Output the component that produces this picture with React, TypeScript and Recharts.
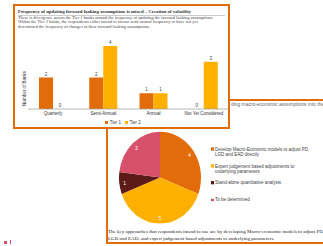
import React from 'react';
import { BarChart, Bar, XAxis, YAxis, Legend, LabelList, PieChart, Pie, Cell } from 'recharts';

const FREQ_CATEGORIES = ['Quarterly', 'Semi-Annual', 'Annual', 'Not Yet Considered'];
const TIER1_COUNTS = [2, 2, 1, 0];
const TIER2_COUNTS = [0, 4, 1, 3];

const APPROACH_LABELS = [
  'Develop Macro-Economic models to adjust PD,\nLGD and EAD directly',
  'Expert judgement based adjustments to\nunderlying parameters',
  'Stand-alone quantitative analysis',
  'To be determined',
];
const APPROACH_COUNTS = [4, 5, 1, 3];

const ORANGE = '#E36C0A';
const YELLOW = '#FFB000';
const BROWN = '#5C1B16';
const PINK = '#D8516B';
const PIE_COLORS = [ORANGE, YELLOW, BROWN, PINK];

const SERIF = '"Liberation Serif", "DejaVu Serif", serif';
const SANS = '"Liberation Sans", Arial, sans-serif';

const barData = FREQ_CATEGORIES.map((name, i) => ({
  name,
  tier1: TIER1_COUNTS[i],
  tier2: TIER2_COUNTS[i],
}));

const pieData = APPROACH_LABELS.map((name, i) => ({ name, value: APPROACH_COUNTS[i] }));

const RAD = Math.PI / 180;

const renderPieLabel = (props: any) => {
  const { cx, cy, midAngle, outerRadius, value } = props;
  const r = outerRadius * 0.87;
  const x = cx + r * Math.cos(-midAngle * RAD);
  const y = cy + r * Math.sin(-midAngle * RAD);
  return (
    <text x={x} y={y} fill="#fff" fontSize={5} fontFamily={SANS} textAnchor="middle" dominantBaseline="central">
      {value}
    </text>
  );
};

// value label above each bar, also drawn for zero-height bars
const renderBarValue = (props: any) => {
  const { x, y, width, height, value } = props;
  const top = Math.min(Number(y), Number(y) + Number(height || 0));
  return (
    <text x={Number(x) + Number(width) / 2} y={top - 2} fontSize={4.5} fill="#404040" fontFamily={SANS} textAnchor="middle">
      {value}
    </text>
  );
};

const renderYLabel = (props: any) => {
  const { viewBox } = props;
  const x = viewBox.x + viewBox.width / 2 + 2;
  const y = viewBox.y + viewBox.height / 2 + 11;
  return (
    <text x={x} y={y} transform={`rotate(-90 ${x} ${y})`} fontSize={4.5} fill="#333" fontFamily={SANS} textAnchor="middle" dominantBaseline="central">
      Number of Banks
    </text>
  );
};

const renderBarLegend = (props: any) => {
  const { payload } = props;
  return (
    <div style={{ display: 'flex', justifyContent: 'center', gap: 4, fontFamily: SANS, fontSize: 4.5, color: '#404040', lineHeight: '11px' }}>
      {payload.map((p: any) => (
        <span key={p.value} style={{ display: 'inline-flex', alignItems: 'center', gap: 1.5 }}>
          <span style={{ width: 3, height: 3, background: p.color, display: 'inline-block' }} />
          {p.value}
        </span>
      ))}
    </div>
  );
};

const renderPieLegend = () => (
  <div style={{ fontFamily: SANS, fontSize: 4.5, color: '#404040' }}>
    {pieData.map((d, i) => (
      <div key={d.name} style={{ height: 15.2, display: 'flex', alignItems: 'flex-start' }}>
        <span style={{ width: 2.5, height: 2.5, marginTop: 1.5, marginRight: 1.5, background: PIE_COLORS[i], flex: 'none' }} />
        <span style={{ whiteSpace: 'pre', lineHeight: '5.4px' }}>{d.name}</span>
      </div>
    ))}
  </div>
);

export default function App() {
  return (
    <div style={{ position: 'absolute', left: 0, top: 0, width: 323, height: 246, background: '#fff', overflow: 'hidden' }}>
      {/* slide behind */}
      <div style={{ position: 'absolute', left: 106, top: 99, width: 260, height: 145, border: `2px solid ${ORANGE}`, boxSizing: 'border-box' }} />
      <div style={{ position: 'absolute', left: 231, top: 101.5, whiteSpace: 'nowrap', fontFamily: SANS, fontSize: 4.9, color: '#666' }}>
        ding macro-economic assumptions into the
      </div>
      <div style={{ position: 'absolute', left: 108, top: 227.5, whiteSpace: 'nowrap', fontFamily: SERIF, fontSize: 5, lineHeight: '7px', color: '#222' }}>
        <div>The key approaches that respondents intend to use are by developing Macro-economic models to adjust PD,</div>
        <div>LGD and EAD; and expert judgement based adjustments to underlying parameters.</div>
      </div>
      <div style={{ position: 'absolute', left: 4, top: 241, width: 3, height: 3, background: PINK }} />
      <div style={{ position: 'absolute', left: 10, top: 240, width: 1, height: 4, background: PINK }} />

      <div style={{ position: 'absolute', left: 105, top: 125, width: 218, height: 100, transform: 'scaleY(1.12)', transformOrigin: '50px 47px' }}>
        <PieChart width={218} height={100}>
          <Pie
            data={pieData}
            dataKey="value"
            cx={50}
            cy={47}
            outerRadius={41}
            startAngle={90}
            endAngle={-270}
            stroke="none"
            label={renderPieLabel}
            labelLine={false}
            isAnimationActive={false}
          >
            {pieData.map((d, i) => (
              <Cell key={d.name} fill={PIE_COLORS[i]} />
            ))}
          </Pie>
          <Legend content={renderPieLegend} wrapperStyle={{ left: 106, top: 23.5, width: 112 }} />
        </PieChart>
      </div>

      {/* front slide */}
      <div style={{ position: 'absolute', left: 13, top: 4, width: 217, height: 125, border: `2px solid ${ORANGE}`, boxSizing: 'border-box', background: '#fff' }}>
        <div style={{ position: 'absolute', left: 3, top: 2.5, right: 3, whiteSpace: 'nowrap', fontFamily: SERIF, fontWeight: 700, fontSize: 4.8, color: '#333', borderBottom: '0.5px solid #ccc', lineHeight: '6px' }}>
          Frequency of updating forward looking assumptions is mixed – Creation of volatility
        </div>
        <div style={{ position: 'absolute', left: 3, top: 9.5, right: 0, overflow: 'hidden', whiteSpace: 'nowrap', fontFamily: SERIF, fontSize: 4.4, color: '#444', lineHeight: '4.6px' }}>
          <div>There is divergence across the Tier 1 banks around the frequency of updating the forward looking assumptions.</div>
          <div>Within the Tier 2 banks, the respondents either intend to favour semi-annual frequency or have not yet</div>
          <div>determined the frequency of changes in their forward looking assumptions.</div>
        </div>
        <div style={{ position: 'absolute', left: 2, top: 24 }}>
          <BarChart width={212} height={98} data={barData} margin={{ top: 16, right: 0, left: 0, bottom: 0 }} barGap={0}>
            <XAxis
              dataKey="name"
              axisLine={{ stroke: '#9a9a9a', strokeWidth: 0.7 }}
              tickLine={false}
              tickSize={2}
              tickMargin={1}
              height={8}
              interval={0}
              tick={{ fontSize: 4.5, fill: '#333', fontFamily: SANS }}
            />
            <YAxis domain={[0, 4]} width={11} tick={false} axisLine={false} tickLine={false} label={renderYLabel} />
            <Legend verticalAlign="bottom" height={11} content={renderBarLegend} />
            <Bar dataKey="tier1" name="Tier 1" fill={ORANGE} barSize={14} minPointSize={0.01} isAnimationActive={false}>
              <LabelList dataKey="tier1" content={renderBarValue} />
            </Bar>
            <Bar dataKey="tier2" name="Tier 2" fill={YELLOW} barSize={14} minPointSize={0.01} isAnimationActive={false}>
              <LabelList dataKey="tier2" content={renderBarValue} />
            </Bar>
          </BarChart>
        </div>
      </div>
    </div>
  );
}
